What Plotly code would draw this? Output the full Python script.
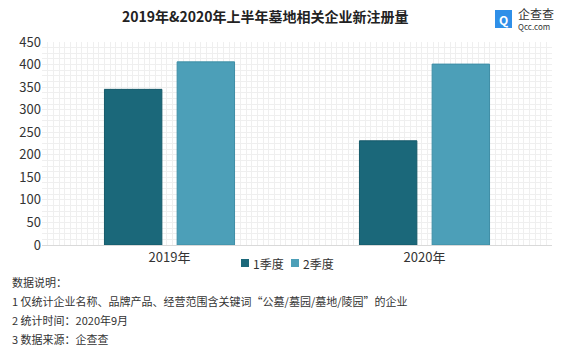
import plotly.graph_objects as go

# Data
years = ["2019年", "2020年"]
q1 = [345, 231]
q2 = [406, 401]
series_names = ["1季度", "2季度"]
y_ticks = [0, 50, 100, 150, 200, 250, 300, 350, 400, 450]

FONT = "Noto Sans CJK SC"
C1 = "#1b687a"
C2 = "#4c9fb8"
colors = [C1, C2]

x_pos = list(range(len(years)))

fig = go.Figure()
fig.add_trace(go.Bar(x=x_pos, y=q1, name=series_names[0],
                     marker=dict(color=C1, line=dict(color="#155a6a", width=1))))
fig.add_trace(go.Bar(x=x_pos, y=q2, name=series_names[1],
                     marker=dict(color=C2, line=dict(color="#3e8ea6", width=1))))

W, H = 580, 347
L, R, T, B = 42, 28, 42, 102
pw = W - L - R
ph = H - T - B

def px_x(x):
    return (x - L) / pw

def px_y(y):
    return (H - B - y) / ph

fig.update_layout(
    width=W, height=H,
    margin=dict(l=L, r=R, t=T, b=B),
    paper_bgcolor="white", plot_bgcolor="white",
    barmode="group", bargap=0.43, bargroupgap=0.21,
    font=dict(family=FONT, color="#333333", size=12),
    showlegend=False,
    xaxis=dict(range=[-0.5, 1.5], tickmode="array", tickvals=x_pos, ticktext=years,
               showgrid=False, zeroline=False, showline=True, linecolor="#d9d9d9",
               ticks="", tickfont=dict(family=FONT, size=13, color="#333333"),
               minor=dict(tickmode="linear", tick0=-0.5, dtick=2 / 90, showgrid=True,
                          gridcolor="#efefef", gridwidth=1, ticks="")),
    yaxis=dict(range=[0, 450], tickmode="array", tickvals=y_ticks,
               showgrid=False, zeroline=False, showline=False, ticks="",
               tickfont=dict(family=FONT, size=13, color="#333333"),
               minor=dict(tickmode="linear", tick0=0, dtick=12.5, showgrid=True,
                          gridcolor="#efefef", gridwidth=1, ticks="")),
)

# Legend drawn as swatches + labels between the category labels
legend_x = [241, 291]
for i, name in enumerate(series_names):
    x0 = legend_x[i]
    fig.add_shape(type="rect", xref="paper", yref="paper",
                  x0=px_x(x0), x1=px_x(x0 + 8), y0=px_y(267), y1=px_y(259),
                  fillcolor=colors[i], line=dict(width=0))
    fig.add_annotation(text=name, xref="paper", yref="paper",
                       x=px_x(x0 + 10), y=px_y(263), xanchor="left", yanchor="middle",
                       showarrow=False, font=dict(family=FONT, size=12, color="#333333"))

# Title
fig.add_annotation(text="<b>2019年&2020年上半年墓地相关企业新注册量</b>",
                   xref="paper", yref="paper", x=px_x(265), y=px_y(16),
                   xanchor="center", yanchor="middle", showarrow=False,
                   font=dict(family=FONT, size=14, color="#222222"))

# Brand mark
fig.add_shape(type="rect", xref="paper", yref="paper",
              x0=px_x(495), x1=px_x(512), y0=px_y(28), y1=px_y(10),
              fillcolor="#2f8fe8", line=dict(width=0), layer="above")
fig.add_annotation(text="<b>Q</b>", xref="paper", yref="paper",
                   x=px_x(503.5), y=px_y(19), xanchor="center", yanchor="middle",
                   showarrow=False, font=dict(family=FONT, size=12, color="white"))
fig.add_annotation(text="企查查", xref="paper", yref="paper",
                   x=px_x(516), y=px_y(14), xanchor="left", yanchor="middle",
                   showarrow=False, font=dict(family=FONT, size=12, color="#333333"))
fig.add_annotation(text="Qcc.com", xref="paper", yref="paper",
                   x=px_x(516), y=px_y(26), xanchor="left", yanchor="middle",
                   showarrow=False, font=dict(family=FONT, size=8, color="#333333"))

# Footnotes
notes = [
    "数据说明：",
    "1 仅统计企业名称、品牌产品、经营范围含关键词“公墓/墓园/墓地/陵园”的企业",
    "2 统计时间：2020年9月",
    "3 数据来源：企查查",
]
note_y = [282, 301, 320, 339]
for line, yy in zip(notes, note_y):
    fig.add_annotation(text=line, xref="paper", yref="paper",
                       x=px_x(10), y=px_y(yy), xanchor="left", yanchor="middle",
                       showarrow=False, font=dict(family=FONT, size=11, color="#333333"))

fig.write_html("out.html")
